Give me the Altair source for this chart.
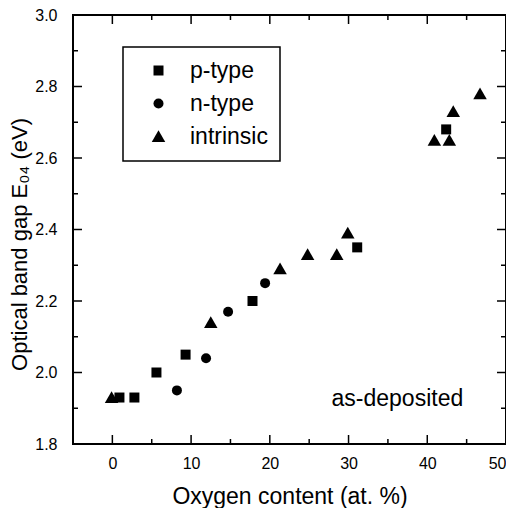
import altair as alt
import pandas as pd

# p-type
p_x = [0.9, 2.8, 5.6, 9.3, 17.8, 31.1, 42.4]
p_y = [1.93, 1.93, 2.00, 2.05, 2.20, 2.35, 2.68]
# n-type
n_x = [8.2, 11.9, 14.7, 19.4]
n_y = [1.95, 2.04, 2.17, 2.25]
# intrinsic
i_x = [-0.1, 12.5, 21.3, 24.8, 28.5, 29.9, 40.9, 42.8, 43.3, 46.7]
i_y = [1.93, 2.14, 2.29, 2.33, 2.33, 2.39, 2.65, 2.65, 2.73, 2.78]

categories = ["p-type", "n-type", "intrinsic"]
shapes = ["square", "circle", "M0,-1.25L1.35,1.1L-1.35,1.1Z"]

x_major = [0, 10, 20, 30, 40]
x_minor = [-5, 5, 15, 25, 35, 45]
y_major = [2.0, 2.2, 2.4, 2.6, 2.8]
y_minor = [1.9, 2.1, 2.3, 2.5, 2.7, 2.9]
x_labels = [0, 10, 20, 30, 40, 50]
y_labels = [1.8, 2.0, 2.2, 2.4, 2.6, 2.8, 3.0]

W, H = 433, 429
FONT = "Liberation Sans"

rows = []
for xs, ys, c in [(p_x, p_y, "p-type"), (n_x, n_y, "n-type"), (i_x, i_y, "intrinsic")]:
    for a, b in zip(xs, ys):
        rows.append({"x": a, "y": b, "type": c})
df = pd.DataFrame(rows)

xscale = alt.Scale(domain=[-5, 50], nice=False, zero=False)
yscale = alt.Scale(domain=[1.8, 3.0], nice=False, zero=False)

xaxis = alt.Axis(values=x_labels, ticks=False, domain=False, grid=False,
                 labelFontSize=16, labelPadding=11, labelColor="black",
                 title="Oxygen content (at. %)", titleFontSize=23,
                 titleFontWeight="normal", titlePadding=14, titleColor="black",
                 labelFont=FONT, titleFont=FONT)
yaxis = alt.Axis(values=y_labels, format=".1f", ticks=False, domain=False, grid=False,
                 labelFontSize=16, labelPadding=16, labelColor="black",
                 title="Optical band gap E₀₄ (eV)", titleFontSize=22,
                 titleFontWeight="normal", titleColor="black",
                 titleX=-42, titleY=229, titleAngle=270, titleAlign="center",
                 titleBaseline="bottom",
                 labelFont=FONT, titleFont=FONT)

points = alt.Chart(df).mark_point(filled=True, opacity=1, color="black", size=100).encode(
    x=alt.X("x:Q", scale=xscale, axis=xaxis),
    y=alt.Y("y:Q", scale=yscale, axis=yaxis),
    shape=alt.Shape("type:N", scale=alt.Scale(domain=categories, range=shapes),
                    legend=alt.Legend(title=None, orient="none", legendX=50, legendY=32,
                                      strokeColor="black", padding=12,
                                      labelFontSize=23, labelFont=FONT, labelColor="black",
                                      symbolSize=100, symbolFillColor="black",
                                      symbolStrokeColor="black", symbolOffset=12,
                                      labelOffset=20, rowPadding=9, fillColor="white")),
)

def xticks(vals, length):
    d = pd.DataFrame({"v": vals})
    bottom = alt.Chart(d).mark_rule(color="black", strokeWidth=1.5).encode(
        x=alt.X("v:Q", scale=xscale), y=alt.value(H), y2=alt.value(H - length))
    top = alt.Chart(d).mark_rule(color="black", strokeWidth=1.5).encode(
        x=alt.X("v:Q", scale=xscale), y=alt.value(0), y2=alt.value(length))
    return [bottom, top]

def yticks(vals, length):
    d = pd.DataFrame({"v": vals})
    left = alt.Chart(d).mark_rule(color="black", strokeWidth=1.5).encode(
        y=alt.Y("v:Q", scale=yscale), x=alt.value(0), x2=alt.value(length))
    right = alt.Chart(d).mark_rule(color="black", strokeWidth=1.5).encode(
        y=alt.Y("v:Q", scale=yscale), x=alt.value(W), x2=alt.value(W - length))
    return [left, right]

ann = alt.Chart(pd.DataFrame({"x": [36.2], "y": [1.925], "t": ["as-deposited"]})).mark_text(
    font=FONT, fontSize=23, color="black", align="center", baseline="middle").encode(
    x=alt.X("x:Q", scale=xscale), y=alt.Y("y:Q", scale=yscale), text="t:N")

layers = xticks(x_major, 9) + xticks(x_minor, 5) + yticks(y_major, 9) + yticks(y_minor, 5)

chart = alt.layer(*layers, ann, points).properties(
    width=W, height=H,
    background="white",
    autosize=alt.AutoSizeParams(type="none"),
    padding={"left": 65, "top": 7, "right": 0, "bottom": 64},
).configure_view(stroke="black", strokeWidth=2).configure_legend(strokeWidth=1.5)

chart.save("out.html", embed_options={"renderer": "svg", "actions": False})
